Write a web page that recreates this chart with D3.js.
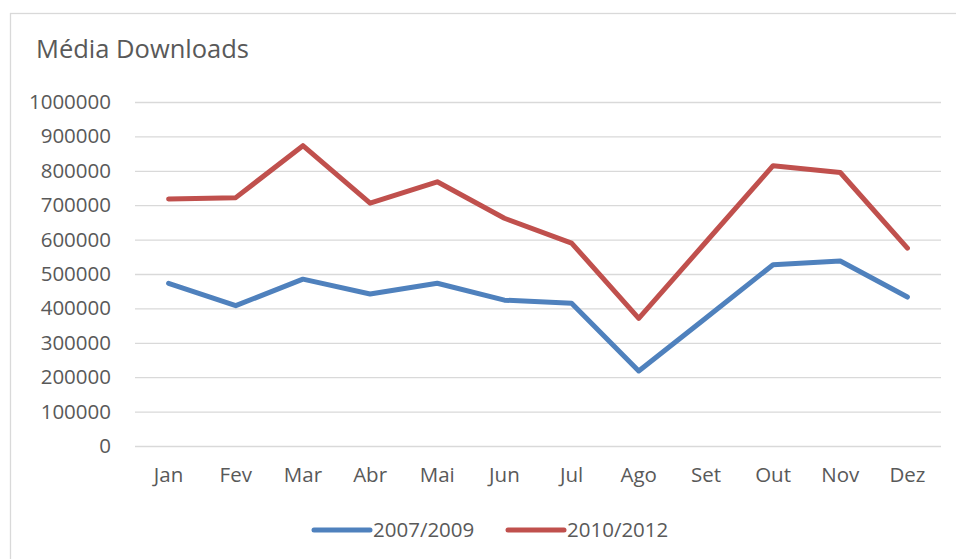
<!DOCTYPE html>
<html>
<head>
<meta charset="utf-8">
<script src="https://cdn.jsdelivr.net/npm/d3@7"></script>
<style>
  body { margin: 0; background: #fff; }
  svg { display: block; font-family: "Open Sans", sans-serif; }
</style>
</head>
<body>
<svg id="chart"></svg>
<script>
// data
const months = ["Jan", "Fev", "Mar", "Abr", "Mai", "Jun", "Jul", "Ago", "Set", "Out", "Nov", "Dez"]
const serie1 = [473000, 408000, 485000, 442000, 473000, 424000, 415000, 218000, 372000, 527000, 538000, 433000]
const serie2 = [718000, 722000, 873000, 706000, 768000, 662000, 590000, 371000, 593000, 815000, 795000, 575000]
const seriesNames = ["2007/2009", "2010/2012"]
const yTicks = [0, 100000, 200000, 300000, 400000, 500000, 600000, 700000, 800000, 900000, 1000000]

const colors = ["#4F81BD", "#C0504D"]
const width = 956, height = 559
const margin = { left: 135, right: 15, top: 102, bottom: 113 }

const svg = d3.select('#chart')
  .attr('width', width)
  .attr('height', height)

// chart area border
svg.append('rect')
  .attr('x', 10.5).attr('y', 13.5)
  .attr('width', 970).attr('height', 570)
  .attr('fill', 'none')
  .attr('stroke', '#d9d9d9')
  .attr('stroke-width', 1.3)

svg.append('text')
  .attr('x', 36).attr('y', 58)
  .attr('fill', '#595959')
  .style('font-size', '25.5px')
  .text('Média Downloads')

const x = d3.scaleBand()
  .domain(months)
  .range([margin.left, width - margin.right])

const y = d3.scaleLinear()
  .domain([0, 1000000])
  .range([height - margin.bottom, margin.top])

// gridlines + y labels
const yAxis = svg.append('g')
  .attr('transform', 'translate(' + margin.left + ',0)')
  .call(d3.axisLeft(y).tickValues(yTicks).tickFormat(d3.format('d'))
    .tickSize(-(width - margin.left - margin.right)).tickPadding(24))
yAxis.select('.domain').remove()
yAxis.selectAll('line').attr('stroke', '#d9d9d9').attr('stroke-width', 1.3)
yAxis.selectAll('text').attr('fill', '#595959').style('font-size', '20.5px')
  .attr('font-family', '"Open Sans", sans-serif')

// x labels
const xAxis = svg.append('g')
  .attr('transform', 'translate(0,' + (height - margin.bottom) + ')')
  .call(d3.axisBottom(x).tickSize(0).tickPadding(21))
xAxis.select('.domain').remove()
xAxis.selectAll('text').attr('fill', '#595959').style('font-size', '20.5px')
  .attr('font-family', '"Open Sans", sans-serif')

const line = d3.line()
  .x((d, i) => x(months[i]) + x.bandwidth() / 2)
  .y(d => y(d))

;[serie1, serie2].forEach(function (s, i) {
  svg.append('path')
    .datum(s)
    .attr('d', line)
    .attr('fill', 'none')
    .attr('stroke', colors[i])
    .attr('stroke-width', 5)
    .attr('stroke-linejoin', 'round')
    .attr('stroke-linecap', 'round')
})

// legend
const legendX = [314, 508]
const legend = svg.selectAll('.legend')
  .data(seriesNames)
  .join('g')
  .attr('class', 'legend')
  .attr('transform', (d, i) => 'translate(' + legendX[i] + ',530)')
legend.append('line')
  .attr('x1', 0).attr('x2', 56)
  .attr('stroke', (d, i) => colors[i])
  .attr('stroke-width', 5)
  .attr('stroke-linecap', 'round')
legend.append('text')
  .attr('x', 59).attr('dy', '0.35em')
  .attr('fill', '#595959')
  .style('font-size', '20.5px')
  .text(d => d)
</script>
</body>
</html>
